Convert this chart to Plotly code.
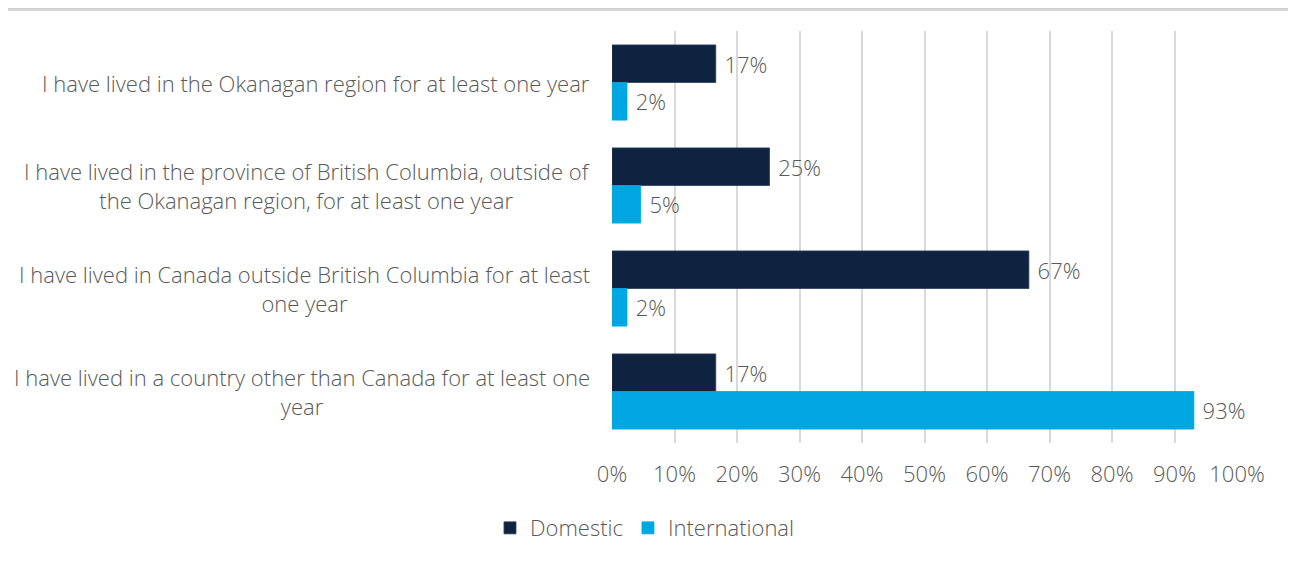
import plotly.graph_objects as go

# Données
categories = [
    "I have lived in the Okanagan region for at least one year",
    "I have lived in the province of British Columbia, outside of<br>the Okanagan region, for at least one year",
    "I have lived in Canada outside British Columbia for at least<br>one year",
    "I have lived in a country other than Canada for at least one<br>year",
]
domestic = [16.6, 25.2, 66.7, 16.6]
international = [2.4, 4.6, 2.4, 93.1]
tick_vals = list(range(0, 101, 10))
tick_text = [f"{v}%" for v in tick_vals]

font_family = "'Open Sans', Lato, sans-serif"
grey = "#595959"

fig = go.Figure()
fig.add_trace(go.Bar(
    y=categories, x=domestic, name="Domestic", orientation="h",
    marker=dict(color="#0f2341", line=dict(color="#2a3d5c", width=0.8)),
    texttemplate="\u00a0%{x:.0f}%", textposition="outside",
    textfont=dict(size=22, color=grey, family=font_family, weight=300),
    cliponaxis=False,
))
fig.add_trace(go.Bar(
    y=categories, x=international, name="International", orientation="h",
    marker=dict(color="#00a7e1", line=dict(color="#00a7e1", width=0.8)),
    texttemplate="\u00a0%{x:.0f}%", textposition="outside",
    textfont=dict(size=22, color=grey, family=font_family, weight=300),
    cliponaxis=False,
))

# Libellés des catégories centrés (comme dans Excel)
for cat in categories:
    fig.add_annotation(
        x=0, xref="paper", y=cat, yref="y", text=cat, showarrow=False,
        xanchor="right", xshift=-20, align="center",
        font=dict(size=22, color=grey, family=font_family, weight=300),
    )

# Ligne grise en haut (reste du tableau au-dessus)
fig.add_shape(type="line", xref="paper", yref="paper",
              x0=-2, x1=2, y0=1.053, y1=1.053,
              line=dict(color="#d0d0d0", width=3))

fig.update_layout(
    width=1296, height=561,
    margin=dict(l=604, r=67, t=23, b=126),
    plot_bgcolor="white", paper_bgcolor="white",
    barmode="group", bargap=0.27, bargroupgap=0,
    font=dict(family=font_family, color=grey, size=22, weight=300),
    showlegend=True,
    legend=dict(orientation="h", xref="container", x=0.4915, xanchor="center",
                yref="container", y=0.073, yanchor="middle",
                font=dict(size=22, color=grey, weight=300), itemwidth=30,
                traceorder="normal"),
    xaxis=dict(range=[0, 100], tickvals=tick_vals, ticktext=tick_text,
               showgrid=True, gridcolor="#d9d9d9", gridwidth=1.5,
               zeroline=False, showline=False, ticks="",
               ticklabelstandoff=16,
               tickfont=dict(size=22, color=grey, weight=300)),
    yaxis=dict(autorange="reversed", showticklabels=False, showgrid=False,
               zeroline=False, showline=False, ticks=""),
)

fig.write_html("out.html")
